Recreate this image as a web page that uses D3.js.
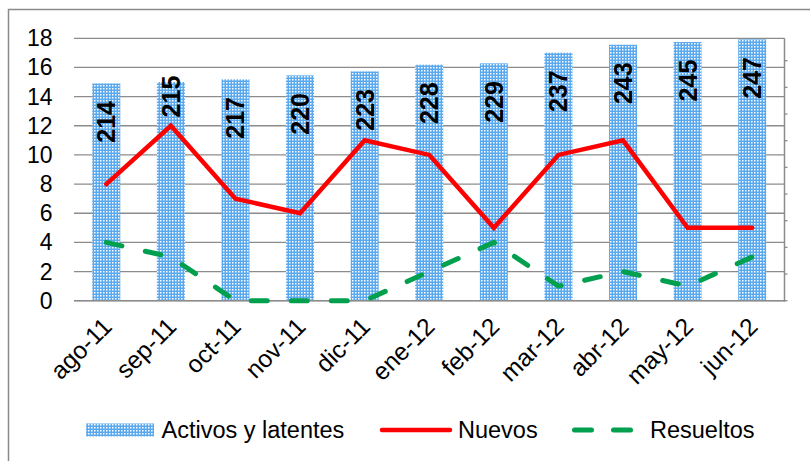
<!DOCTYPE html>
<html>
<head>
<meta charset="utf-8">
<script src="https://cdn.jsdelivr.net/npm/d3@7"></script>
<style>
  html, body { margin: 0; padding: 0; background: #fff; }
  svg { display: block; font-family: "Liberation Sans", Arial, sans-serif; }
</style>
</head>
<body>
<svg id="chart" width="810" height="461"></svg>
<script>
// Monthly case counts
const months = ["ago-11", "sep-11", "oct-11", "nov-11", "dic-11", "ene-12",
                "feb-12", "mar-12", "abr-12", "may-12", "jun-12"];
const activos = [214, 215, 217, 220, 223, 228, 229, 237, 243, 245, 247];
const nuevos = [8, 12, 7, 6, 11, 10, 5, 10, 11, 5, 5];
const resueltos = [4, 3, 0, 0, 0, 2, 4, 1, 2, 1, 3];
const leftTicks = [0, 2, 4, 6, 8, 10, 12, 14, 16, 18];

const svg = d3.select("#chart");
const W = 810, H = 461;
const plot = { left: 74, right: 784.5, top: 38.3, bottom: 300.7 };

// Primary axis (new / resolved) and secondary axis (active + latent bars)
const y = d3.scaleLinear().domain([0, 18]).range([plot.bottom, plot.top]);
const secMin = 51, secMax = 247.8, secStep = 20;
const y2 = d3.scaleLinear().domain([secMin, secMax]).range([plot.bottom, plot.top]);
const x = d3.scaleBand().domain(months).range([plot.left, plot.right]).padding(0);
const cx = d => x(d) + x.bandwidth() / 2;
const barW = x.bandwidth() * 0.433;

// Dotted fill for the bars
const defs = svg.append("defs");
const pat = defs.append("pattern")
  .attr("id", "dots").attr("patternUnits", "userSpaceOnUse")
  .attr("width", 3).attr("height", 3);
pat.append("rect").attr("width", 3).attr("height", 3).attr("fill", "#5aa8ee");
pat.append("rect").attr("x", 1).attr("y", 1).attr("width", 1.5).attr("height", 1.5).attr("fill", "#ffffff");

// Outer chart frame
svg.append("rect")
  .attr("x", 8.5).attr("y", 9.5).attr("width", W + 20).attr("height", H + 20)
  .attr("fill", "none").attr("stroke", "#8a8a8a").attr("stroke-width", 1.5);

// Horizontal gridlines
svg.append("g").selectAll("line").data(leftTicks).join("line")
  .attr("x1", plot.left).attr("x2", plot.right)
  .attr("y1", d => y(d)).attr("y2", d => y(d))
  .attr("stroke", "#8c8c8c").attr("stroke-width", 1.3);

// Left tick labels
svg.append("g").selectAll("text").data(leftTicks).join("text")
  .attr("x", 52.5).attr("y", d => y(d))
  .attr("text-anchor", "end").attr("dominant-baseline", "central")
  .attr("font-size", 23).attr("fill", "#000")
  .text(d => d);

// Secondary axis line with outward ticks (labels hidden)
svg.append("line")
  .attr("x1", plot.right).attr("x2", plot.right)
  .attr("y1", plot.top).attr("y2", plot.bottom + 1)
  .attr("stroke", "#8c8c8c").attr("stroke-width", 1.5);
const secTicks = d3.range(secMin, secMax, secStep);
svg.append("g").selectAll("line").data(secTicks).join("line")
  .attr("x1", plot.right).attr("x2", plot.right + 3)
  .attr("y1", d => y2(d)).attr("y2", d => y2(d))
  .attr("stroke", "#8c8c8c").attr("stroke-width", 1.3);

// Bars
svg.append("g").selectAll("rect").data(months).join("rect")
  .attr("x", d => cx(d) - barW / 2)
  .attr("y", (d, i) => y2(activos[i]))
  .attr("width", barW)
  .attr("height", (d, i) => plot.bottom - y2(activos[i]))
  .attr("fill", "url(#dots)");

// Baseline redrawn over the bars
svg.append("line")
  .attr("x1", plot.left).attr("x2", plot.right)
  .attr("y1", y(0)).attr("y2", y(0))
  .attr("stroke", "#8c8c8c").attr("stroke-width", 1.5);

// Bar value labels, rotated
const labelShift = { "sep-11": -24 };
svg.append("g").selectAll("text").data(months).join("text")
  .attr("transform", (d, i) => {
    const ty = y2(activos[i]) + 38.5 + (labelShift[d] || 0);
    return `translate(${cx(d)},${ty}) rotate(-90)`;
  })
  .attr("text-anchor", "middle").attr("dominant-baseline", "central")
  .attr("font-size", 25).attr("font-weight", "bold").attr("fill", "#000")
  .text((d, i) => activos[i]);

// Lines
const line = d3.line().x((d, i) => cx(months[i])).y(d => y(d));
svg.append("path").datum(resueltos)
  .attr("d", line).attr("fill", "none")
  .attr("stroke", "#00a04e").attr("stroke-width", 5)
  .attr("stroke-linecap", "round").attr("stroke-dasharray", "16,24");
svg.append("path").datum(nuevos)
  .attr("d", line).attr("fill", "none")
  .attr("stroke", "#ff0000").attr("stroke-width", 4.5)
  .attr("stroke-linejoin", "miter").attr("stroke-linecap", "round");

// Category labels at -45°
svg.append("g").selectAll("text").data(months).join("text")
  .attr("transform", d => `translate(${cx(d) + 1},${322}) rotate(-45)`)
  .attr("text-anchor", "end").attr("dominant-baseline", "central")
  .attr("font-size", 24.5).attr("fill", "#000")
  .text(d => d);

// Legend
const lg = svg.append("g");
const ly = 430;
lg.append("rect").attr("x", 86).attr("y", ly - 6.5).attr("width", 68).attr("height", 13)
  .attr("fill", "url(#dots)");
lg.append("text").attr("x", 161.5).attr("y", ly).attr("dominant-baseline", "central")
  .attr("font-size", 23.5).text("Activos y latentes");
lg.append("line").attr("x1", 382).attr("x2", 450).attr("y1", ly).attr("y2", ly)
  .attr("stroke", "#ff0000").attr("stroke-width", 4.5).attr("stroke-linecap", "round");
lg.append("text").attr("x", 458).attr("y", ly).attr("dominant-baseline", "central")
  .attr("font-size", 23.5).text("Nuevos");
lg.append("line").attr("x1", 574.5).attr("x2", 632.5).attr("y1", ly).attr("y2", ly)
  .attr("stroke", "#00a04e").attr("stroke-width", 5).attr("stroke-linecap", "round")
  .attr("stroke-dasharray", "17,22");
lg.append("text").attr("x", 650).attr("y", ly).attr("dominant-baseline", "central")
  .attr("font-size", 23.5).text("Resueltos");
</script>
</body>
</html>
